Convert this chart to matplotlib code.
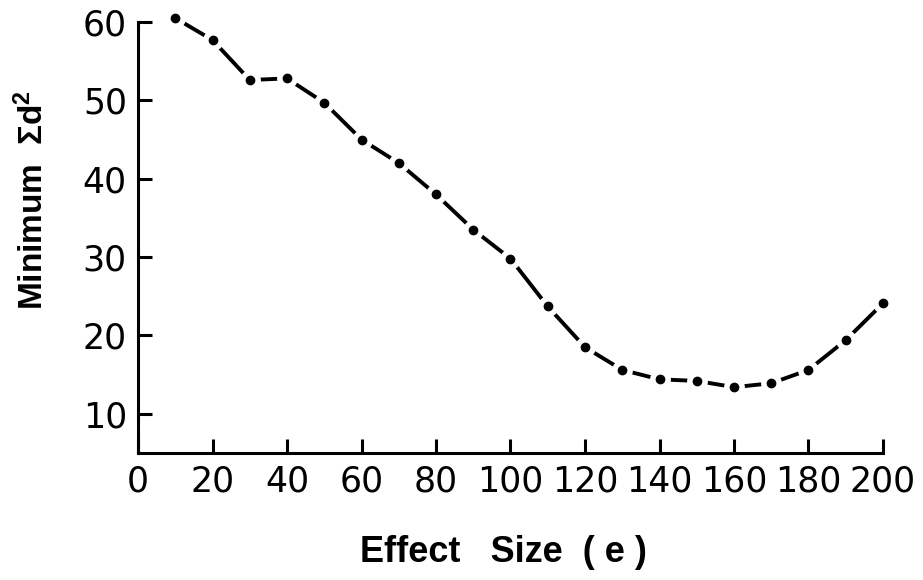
import matplotlib
matplotlib.use("Agg")
import matplotlib.pyplot as plt

effect_size = [10, 20, 30, 40, 50, 60, 70, 80, 90, 100,
               110, 120, 130, 140, 150, 160, 170, 180, 190, 200]
min_sum_d2 = [60.5, 57.7, 52.6, 52.8, 49.7, 45.0, 42.0, 38.0, 33.5, 29.8,
              23.7, 18.5, 15.6, 14.4, 14.2, 13.4, 13.9, 15.6, 19.4, 24.1]
x_ticks = [0, 20, 40, 60, 80, 100, 120, 140, 160, 180, 200]
y_ticks = [10, 20, 30, 40, 50, 60]

plt.rcParams['font.family'] = ['DejaVu Sans']
plt.rcParams['mathtext.fontset'] = 'custom'
plt.rcParams['mathtext.rm'] = 'Liberation Sans:bold'
plt.rcParams['mathtext.bf'] = 'Liberation Sans:bold'
plt.rcParams['mathtext.it'] = 'Liberation Sans:bold'

fig = plt.figure(figsize=(9.23, 5.80), dpi=100)
ax = fig.add_axes([138/923, 1-453/580, (883-138)/923, (453-22)/580])

ax.plot(effect_size, min_sum_d2, color='black', lw=2.8, solid_capstyle='butt',
        clip_on=False, zorder=2)
ax.plot(effect_size, min_sum_d2, ls='none', marker='o', ms=15, mfc='white',
        mec='white', mew=0, clip_on=False, zorder=3)
ax.plot(effect_size, min_sum_d2, ls='none', marker='o', ms=6, mfc='black',
        mec='black', clip_on=False, zorder=4)

ax.set_xlim(0, 200)
ax.set_ylim(5, 60)
ax.set_xticks(x_ticks)
ax.set_yticks(y_ticks)
for s in ['top', 'right']:
    ax.spines[s].set_visible(False)
for s in ['left', 'bottom']:
    ax.spines[s].set_linewidth(2.2)
ax.tick_params(direction='in', length=10, width=2.2, labelsize=25, pad=8)

fig.text(503/923, 1-553/580, 'Effect   Size  ( e )', ha='center', va='center',
         fontsize=26, fontweight='bold', family='Liberation Sans')
fig.text(33/923, 1-200/580, r'Minimum  $\mathrm{\Sigma d^{2}}$', ha='center',
         va='center', rotation=90, fontsize=24, fontweight='bold',
         family='Liberation Sans')

fig.savefig('out.png', dpi=100)
